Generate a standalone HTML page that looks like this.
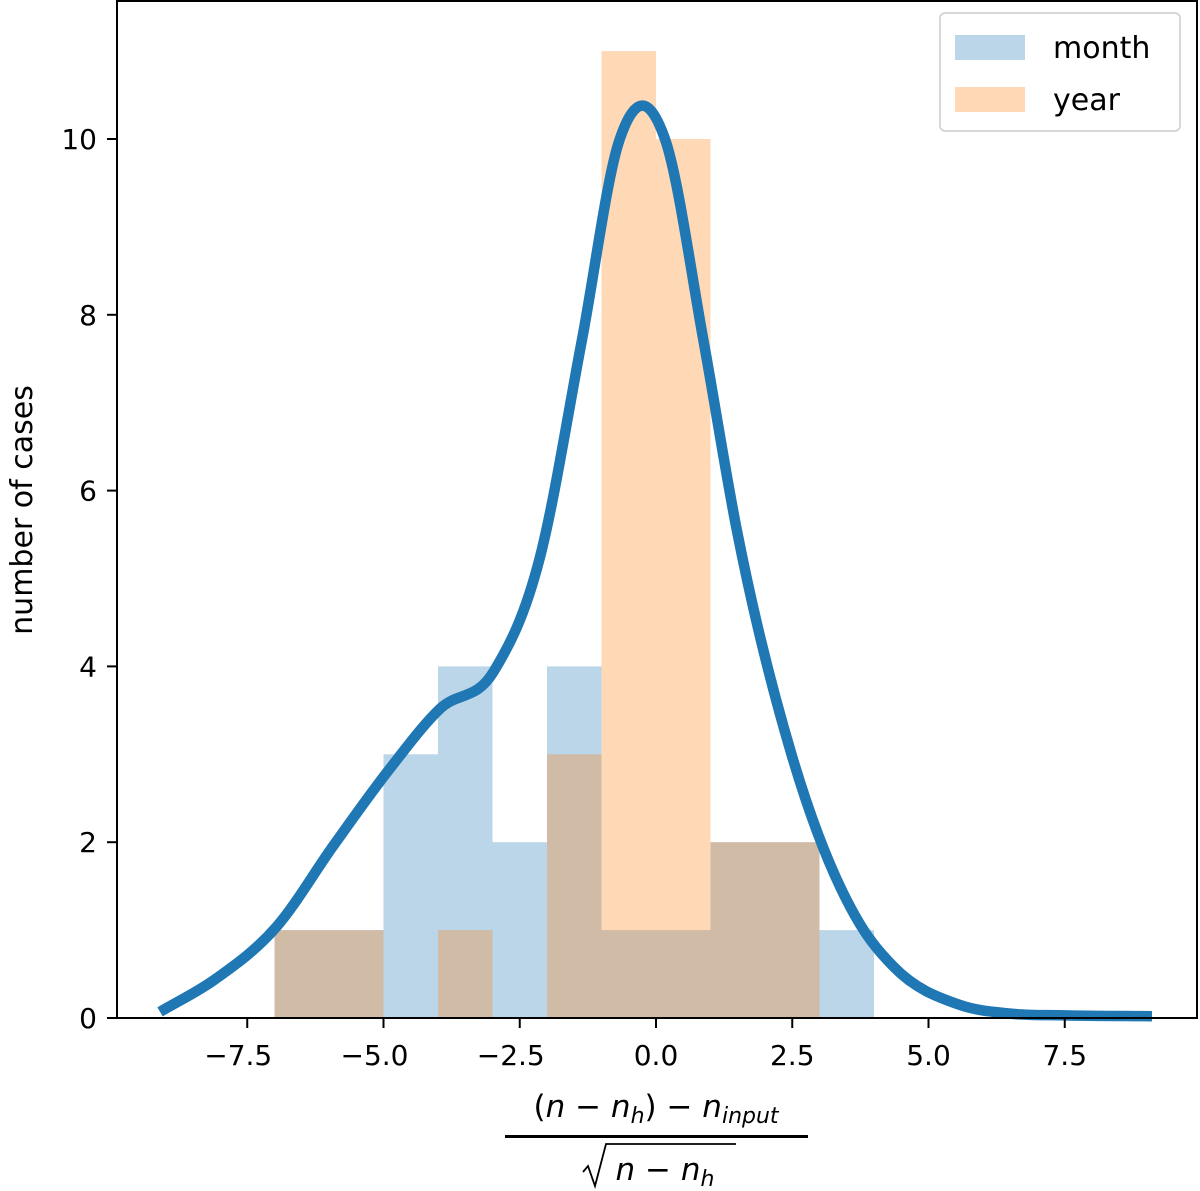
<!DOCTYPE html>
<html><head><meta charset="utf-8"><style>
body{margin:0;background:#fff;}
svg{display:block;font-family:"DejaVu Sans","Liberation Sans",sans-serif;}
</style></head><body>
<svg id="chart" width="1200" height="1191" viewBox="0 0 1200 1191">
<g id="bars"></g>
<path id="kde" fill="none" stroke="#1f77b4" stroke-width="10.5" stroke-linecap="butt" stroke-linejoin="round"/>
<rect x="117" y="1" width="1080" height="1017" fill="none" stroke="#000" stroke-width="2"/>
<g id="ticks"></g>
<text transform="translate(32,510) rotate(-90)" text-anchor="middle" font-size="30">number of cases</text>
<g font-size="31" text-anchor="middle">
<text x="656" y="1117">(<tspan font-style="italic">n</tspan> − <tspan font-style="italic">n</tspan><tspan font-style="italic" font-size="22" dy="6">h</tspan><tspan dy="-6">) − </tspan><tspan font-style="italic">n</tspan><tspan font-style="italic" font-size="22" dy="6">input</tspan></text>
<rect x="505" y="1135" width="303" height="3" fill="#000"/>
<path d="M583,1172 L588,1166 L595,1186 L606,1144 L736,1144" fill="none" stroke="#000" stroke-width="1.8"/>
<text x="665" y="1180"><tspan font-style="italic">n</tspan> − <tspan font-style="italic">n</tspan><tspan font-style="italic" font-size="22" dy="6">h</tspan></text>
</g>
<g>
<rect x="940" y="13" width="240" height="118" rx="5" fill="#fff" stroke="#ccc" stroke-width="1.5"/>
<rect x="955" y="35" width="70" height="25" fill="#1f77b4" fill-opacity="0.3"/>
<text x="1053" y="58" font-size="30">month</text>
<rect x="955" y="87" width="70" height="25" fill="#ff7f0e" fill-opacity="0.3"/>
<text x="1053" y="110" font-size="30">year</text>
</g>
</svg>
<script>
const binStarts=[-7,-6,-5,-4,-3,-2,-1,0,1,2,3];
const monthCounts=[1,1,3,4,2,4,1,1,2,2,1];
const yearCounts=[1,1,0,1,0,3,11,10,2,2,0];
const kdeX=[-9.1,-8.09,-6.96,-5.92,-4.88,-3.96,-2.98,-2.13,-1.36,-0.67,-0.26,0.17,0.87,1.48,2.51,3.74,4.35,5.57,6.5,7.5,9.1];
const kdeY=[0.07,0.44,1.04,1.96,2.84,3.52,3.94,5.24,7.71,9.99,10.38,9.99,7.71,5.56,2.95,1.07,0.59,0.15,0.05,0.03,0.02];
const xTicks=[-7.5,-5.0,-2.5,0.0,2.5,5.0,7.5];
const yTicks=[0,2,4,6,8,10];
const X=v=>656+v*54.5;
const Y=v=>1018-v*87.9;
const NS='http://www.w3.org/2000/svg';
const bars=document.getElementById('bars');
function bar(b,c,color,name){
  if(!c)return;
  const r=document.createElementNS(NS,'rect');
  r.setAttribute('x',X(b));r.setAttribute('width',X(b+1)-X(b));
  r.setAttribute('y',Y(c));r.setAttribute('height',Y(0)-Y(c));
  r.setAttribute('fill',color);r.setAttribute('fill-opacity','0.3');
  
  
  bars.appendChild(r);
}
binStarts.forEach((b,i)=>bar(b,monthCounts[i],'#1f77b4','bar-month'));
binStarts.forEach((b,i)=>bar(b,yearCounts[i],'#ff7f0e','bar-year'));
const P=kdeX.map((x,i)=>[X(x),Y(kdeY[i])]);
const n=P.length,hs=[],ss=[],ms=[];
for(let i=0;i<n-1;i++){hs[i]=P[i+1][0]-P[i][0];ss[i]=(P[i+1][1]-P[i][1])/hs[i];}
for(let i=1;i<n-1;i++){
  const s0=ss[i-1],s1=ss[i],h0=hs[i-1],h1=hs[i];
  ms[i]=(s0*h1+s1*h0)/(h0+h1);
}
ms[0]=ss[0];ms[n-1]=ss[n-2];
let d='M'+P[0][0]+','+P[0][1];
for(let i=0;i<n-1;i++){
  const h=hs[i];
  d+=` C${P[i][0]+h/3},${P[i][1]+ms[i]*h/3} ${P[i+1][0]-h/3},${P[i+1][1]-ms[i+1]*h/3} ${P[i+1][0]},${P[i+1][1]}`;
}
document.getElementById('kde').setAttribute('d',d);
const tg=document.getElementById('ticks');
xTicks.forEach(v=>{
  const l=document.createElementNS(NS,'line');
  l.setAttribute('x1',X(v));l.setAttribute('x2',X(v));l.setAttribute('y1',1018);l.setAttribute('y2',1028);
  l.setAttribute('stroke','#000');l.setAttribute('stroke-width','2');
  
  
  tg.appendChild(l);
  const t=document.createElementNS(NS,'text');
  t.setAttribute('x',X(v)-(v<0?9:0));t.setAttribute('y',1065);t.setAttribute('text-anchor','middle');t.setAttribute('font-size','28');
  t.textContent=(v<0?'−':'')+Math.abs(v).toFixed(1);
  
  
  tg.appendChild(t);
});
yTicks.forEach(v=>{
  const l=document.createElementNS(NS,'line');
  l.setAttribute('x1',107);l.setAttribute('x2',117);l.setAttribute('y1',Y(v));l.setAttribute('y2',Y(v));
  l.setAttribute('stroke','#000');l.setAttribute('stroke-width','2');
  
  
  tg.appendChild(l);
  const t=document.createElementNS(NS,'text');
  t.setAttribute('x',97);t.setAttribute('y',Y(v)+10);t.setAttribute('text-anchor','end');t.setAttribute('font-size','28');
  t.textContent=String(v);
  
  
  tg.appendChild(t);
});
</script>
</body></html>
